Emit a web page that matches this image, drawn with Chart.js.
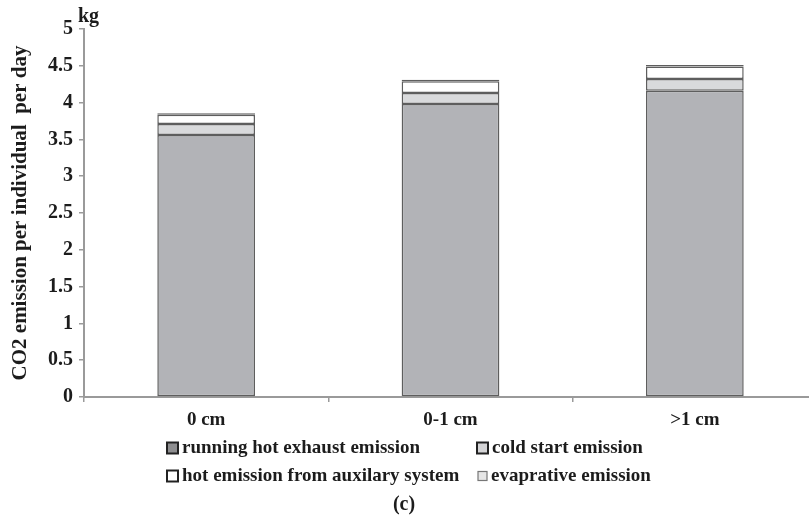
<!DOCTYPE html>
<html>
<head>
<meta charset="utf-8">
<script src="https://cdn.jsdelivr.net/npm/chart.js@4/dist/chart.umd.min.js"></script>
<style>
  html, body { margin: 0; padding: 0; background: #fff; overflow: hidden; }
  #wrap { width: 809px; height: 521px; overflow: hidden; }
</style>
</head>
<body>
<div id="wrap"><canvas id="myChart" width="820" height="521"></canvas></div>
<script>
// data (kg per individual per day)
const categories = ['0 cm', '0-1 cm', '>1 cm'];
const seriesNames = [
  'running hot exhaust emission',
  'cold start emission',
  'hot emission from auxilary system',
  'evaprative emission'
];
const runningHot = [3.56, 3.98, 4.16];
const coldStart = [0.15, 0.15, 0.16];
const hotAux = [0.125, 0.16, 0.17];
const evaporative = [0.02, 0.02, 0.02];
const yTicks = [0, 0.5, 1, 1.5, 2, 2.5, 3, 3.5, 4, 4.5, 5];

const serif = '"Liberation Serif", "Times New Roman", serif';
const ink = '#1c1c1c';
const barFill = ['#b2b3b7', '#d9dadc', '#ffffff', '#ededed'];
const keyFill = ['#8e8e90', '#d4d4d6', '#ffffff', '#e6e6e6'];

function makeSet(i, values) {
  return {
    label: seriesNames[i],
    data: values,
    backgroundColor: barFill[i],
    borderColor: '#5e5e5e',
    borderWidth: 1.5,
    borderSkipped: false,
    barPercentage: 0.4,
    categoryPercentage: 1.0
  };
}

// legend in two fixed columns, "kg" unit and "(c)" caption
const extras = {
  id: 'extras',
  afterDraw(chart) {
    const ctx = chart.ctx;
    ctx.save();
    ctx.fillStyle = ink;
    ctx.font = 'bold 20px ' + serif;
    ctx.textBaseline = 'middle';
    ctx.textAlign = 'left';
    ctx.fillText('kg', 78, 17);

    const cells = [
      { x: 167, y: 448, size: 11 },
      { x: 477, y: 448, size: 11 },
      { x: 167, y: 476, size: 11 },
      { x: 478, y: 476, size: 9 }
    ];
    ctx.font = 'bold 19px ' + serif;
    cells.forEach((c, i) => {
      ctx.fillStyle = keyFill[i];
      ctx.fillRect(c.x, c.y - c.size / 2, c.size, c.size);
      ctx.lineWidth = i === 3 ? 1.2 : 2;
      ctx.strokeStyle = i === 3 ? '#777' : '#222';
      ctx.strokeRect(c.x, c.y - c.size / 2, c.size, c.size);
      ctx.fillStyle = ink;
      ctx.fillText(chart.data.datasets[i].label, c.x + c.size + 4, c.y);
    });

    ctx.textAlign = 'center';
    ctx.font = 'bold 20px ' + serif;
    ctx.fillText('(c)', 404, 505);
    ctx.restore();
  }
};

const ctx = document.getElementById('myChart').getContext('2d');
new Chart(ctx, {
  type: 'bar',
  data: {
    labels: categories,
    datasets: [
      makeSet(0, runningHot),
      makeSet(1, coldStart),
      makeSet(2, hotAux),
      makeSet(3, evaporative)
    ]
  },
  options: {
    responsive: false,
    devicePixelRatio: 1,
    animation: false,
    layout: { padding: { top: 29, right: 3, bottom: 94, left: 0 } },
    plugins: {
      legend: { display: false },
      tooltip: { enabled: false }
    },
    scales: {
      x: {
        stacked: true,
        afterFit(scale) { scale.height = 30; },
        grid: {
          drawOnChartArea: false,
          drawTicks: true,
          tickLength: 5,
          color: '#9a9a9a',
          lineWidth: 1.5
        },
        border: { color: '#9a9a9a', width: 2 },
        ticks: {
          color: ink,
          padding: 7,
          font: { family: serif, size: 19, weight: 'bold' }
        }
      },
      y: {
        stacked: true,
        min: 0,
        max: 5,
        afterFit(scale) { scale.width = 84; },
        afterBuildTicks(scale) { scale.ticks = yTicks.map(v => ({ value: v })); },
        grid: {
          drawOnChartArea: false,
          drawTicks: true,
          tickLength: 5,
          color: '#9a9a9a',
          lineWidth: 1.5
        },
        border: { color: '#9a9a9a', width: 2 },
        ticks: {
          color: ink,
          padding: 6,
          callback: v => String(v),
          font: { family: serif, size: 20, weight: 'bold' }
        },
        title: {
          display: true,
          text: 'CO2 emission per individual  per day',
          color: ink,
          padding: { top: 8, bottom: 0 },
          font: { family: serif, size: 21, weight: 'bold' }
        }
      }
    }
  },
  plugins: [extras]
});
</script>
</body>
</html>
